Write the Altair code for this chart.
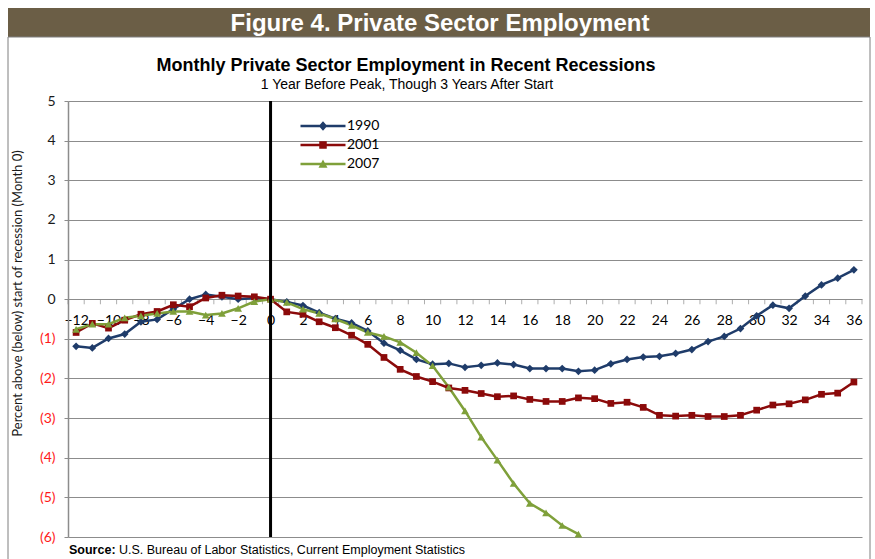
import altair as alt
import pandas as pd

months = list(range(-12, 37))
series_names = ["1990", "2001", "2007"]
series_colors = ["#1F3C6A", "#8B0A0A", "#7FA03A"]
series_shapes = ["diamond", "square", "triangle-up"]
series_sizes = [60, 45, 60]

v1990 = [-1.19, -1.23, -0.99, -0.88, -0.57, -0.51, -0.25, 0.0, 0.12, 0.06, 0.0, 0.03,
         0.0, -0.07, -0.16, -0.34, -0.49, -0.60, -0.80, -1.11, -1.29, -1.52, -1.64, -1.62,
         -1.72, -1.67, -1.61, -1.65, -1.75, -1.75, -1.75, -1.82, -1.79, -1.63, -1.52, -1.46,
         -1.44, -1.37, -1.27, -1.07, -0.94, -0.74, -0.42, -0.15, -0.23, 0.08, 0.36, 0.53, 0.74]
v2001 = [-0.84, -0.61, -0.73, -0.53, -0.38, -0.31, -0.14, -0.19, 0.03, 0.10, 0.08, 0.06,
         0.0, -0.32, -0.38, -0.57, -0.72, -0.91, -1.14, -1.47, -1.77, -1.95, -2.08, -2.24,
         -2.30, -2.38, -2.46, -2.44, -2.53, -2.58, -2.58, -2.49, -2.51, -2.63, -2.60, -2.73,
         -2.93, -2.95, -2.93, -2.96, -2.96, -2.93, -2.80, -2.67, -2.64, -2.54, -2.40, -2.37, -2.09]
v2007 = [-0.76, -0.63, -0.63, -0.47, -0.42, -0.36, -0.31, -0.31, -0.40, -0.36, -0.23, -0.06,
         0.0, -0.08, -0.25, -0.36, -0.50, -0.66, -0.84, -0.94, -1.09, -1.35, -1.68, -2.22,
         -2.82, -3.48, -4.06, -4.65, -5.15, -5.39, -5.71, -5.93]

x_label_values = list(range(-12, 37, 2))
y_tick_values = list(range(-6, 6))
tick_positions = [m + 0.5 for m in range(-13, 37)]

main_title = "Figure 4. Private Sector Employment"
chart_title = "Monthly Private Sector Employment in Recent Recessions"
chart_subtitle = "1 Year Before Peak, Though 3 Years After Start"
y_title = "Percent above (below) start of recession (Month 0)"
source_bold = "Source:"
source_text = "U.S. Bureau of Labor Statistics, Current Employment Statistics"

rows = []
for name, vals in zip(series_names, [v1990, v2001, v2007]):
    for m, v in zip(months, vals):
        rows.append({"month": m, "value": v, "series": name})
df = pd.DataFrame(rows)

W, H = 794, 436
LABEL_FONT = "Lato"
TEXT_FONT = "Liberation Sans"

x_scale = alt.Scale(domain=[-12.5, 36.5], nice=False, zero=False)
y_scale = alt.Scale(domain=[-6, 5], nice=False, zero=False)

x_axis = alt.Axis(
    values=x_label_values, ticks=False, domain=False, grid=False,
    labelFlush=False, labelOverlap=False, offset=-237, labelPadding=13,
    labelFont=LABEL_FONT, labelFontSize=14, labelColor="#000000", title=None,
)
y_axis = alt.Axis(
    values=y_tick_values, grid=True, gridColor="#8c8c8c", gridWidth=1,
    domain=True, domainColor="#8c8c8c", domainWidth=1.5,
    ticks=True, tickSize=4, tickColor="#8c8c8c", labelOverlap=False, labelFlush=False,
    labelExpr="datum.value < 0 ? '(' + (-datum.value) + ')' : '' + datum.value",
    labelColor={"expr": "datum.value < 0 ? '#ff1a1a' : '#1a1a1a'"},
    labelFont=LABEL_FONT, labelFontSize=14, labelPadding=9,
    title=y_title, titleFont=LABEL_FONT, titleFontSize=13, titleFontWeight="normal",
    titleColor="#1a1a1a", titleX=-51, titleY=192, titleBaseline="middle",
    titleAngle=270,
)
x_enc = alt.X("month:Q", scale=x_scale, axis=x_axis)
y_enc = alt.Y("value:Q", scale=y_scale, axis=y_axis)

legend_shape = (
    "datum.value === '1990' ? 'M-4.5,-0.25L4.5,-0.25L4.5,0.25L-4.5,0.25ZM0,-0.95L0.85,0L0,0.95L-0.85,0Z' : "
    "datum.value === '2001' ? 'M-4.5,-0.25L4.5,-0.25L4.5,0.25L-4.5,0.25ZM-0.75,-0.75L0.75,-0.75L0.75,0.75L-0.75,0.75Z' : "
    "'M-4.5,-0.25L4.5,-0.25L4.5,0.25L-4.5,0.25ZM0,-0.9L0.9,0.75L-0.9,0.75Z'"
)
legend = alt.Legend(
    title=None, orient="none", legendX=248, legendY=18, padding=0,
    symbolSize=100, labelOffset=17, rowPadding=5,
    symbolType={"expr": legend_shape}, symbolOpacity=1, symbolStrokeWidth=0,
    labelFont=LABEL_FONT, labelFontSize=14, labelColor="#000000",
)
color_enc = alt.Color("series:N", scale=alt.Scale(domain=series_names, range=series_colors), legend=legend)

base = alt.Chart(df)
line_layers = [
    base.transform_filter(alt.datum.series == name).mark_line(strokeWidth=2.5, color=col).encode(x=x_enc, y=y_enc)
    for name, col in zip(series_names, series_colors)
]
point_layers = [
    base.transform_filter(alt.datum.series == name).mark_point(
        filled=True, size=sz, opacity=1, shape=shp).encode(x=x_enc, y=y_enc, color=color_enc)
    for name, shp, sz in zip(series_names, series_shapes, series_sizes)
]

tick_df = pd.DataFrame({"month": tick_positions, "value": [0.0] * len(tick_positions)})
ticks = alt.Chart(tick_df).mark_tick(
    orient="vertical", size=5, thickness=1, color="#8c8c8c", yOffset=2.5
).encode(x=x_enc, y=y_enc)

zero_line = alt.Chart(pd.DataFrame({"month": [0]})).mark_rule(color="#000000", strokeWidth=3).encode(x=x_enc)

one = pd.DataFrame({"k": [0]})
title_bar = alt.Chart(one).mark_rect(color="#6B5E46").encode(
    x=alt.value(-60), x2=alt.value(802), y=alt.value(-93), y2=alt.value(-64))
border = alt.Chart(one).mark_rect(fillOpacity=0, stroke="#7f7f7f", strokeWidth=1).encode(
    x=alt.value(-60), x2=alt.value(802), y=alt.value(-64), y2=alt.value(480))
t_main = alt.Chart(one).mark_text(text=main_title, font=TEXT_FONT, fontSize=24, fontWeight="bold",
                                  color="#ffffff", align="center", baseline="alphabetic").encode(
    x=alt.value(372), y=alt.value(-70))
t_title = alt.Chart(one).mark_text(text=chart_title, font=TEXT_FONT, fontSize=18, fontWeight="bold",
                                   color="#000000", align="center", baseline="alphabetic").encode(
    x=alt.value(338), y=alt.value(-30))
t_sub = alt.Chart(one).mark_text(text=chart_subtitle, font=TEXT_FONT, fontSize=14,
                                 color="#000000", align="center", baseline="alphabetic").encode(
    x=alt.value(339), y=alt.value(-12))
t_src_b = alt.Chart(one).mark_text(text=source_bold, font=TEXT_FONT, fontSize=12.5, fontWeight="bold",
                                   color="#000000", align="left", baseline="alphabetic").encode(
    x=alt.value(1), y=alt.value(453))
t_src = alt.Chart(one).mark_text(text=source_text, font=TEXT_FONT, fontSize=12.5,
                                 color="#000000", align="left", baseline="alphabetic").encode(
    x=alt.value(51), y=alt.value(453))

chart = alt.layer(
    title_bar, border, ticks, *line_layers, *point_layers, zero_line,
    t_main, t_title, t_sub, t_src_b, t_src,
).properties(
    width=W, height=H, autosize="none",
    padding={"left": 68, "top": 101, "right": 13, "bottom": 22},
    background="#ffffff",
).configure_view(stroke=None)

chart.save("out.html", embed_options={"renderer": "svg", "actions": False})
